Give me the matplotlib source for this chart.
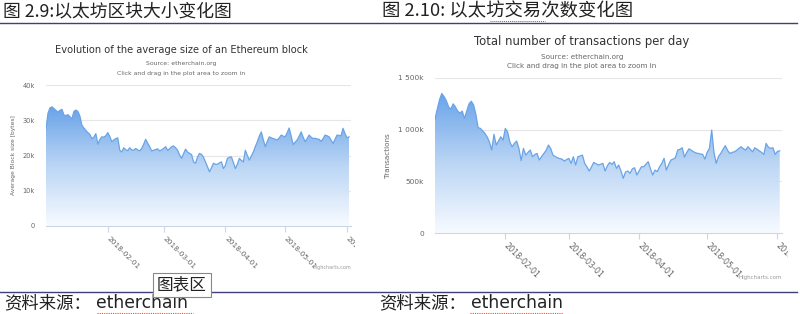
import numpy as np
import pandas as pd
import matplotlib
matplotlib.use('Agg')
import matplotlib.pyplot as plt
import matplotlib.dates as mdates
from matplotlib.colors import LinearSegmentedColormap
from matplotlib.transforms import Bbox, TransformedBbox

plt.rcParams['font.family'] = ['Noto Sans CJK SC', 'DejaVu Sans']

START = '2018-01-01'

# average block size per day (bytes, in thousands)
block_size_k = [
    27.5, 32.0, 33.5, 33.8, 33.3, 32.8, 32.3, 32.8, 33.1, 31.5,
    31.3, 31.6, 31.0, 30.4, 32.5, 32.9, 32.5, 31.2, 28.6, 27.8,
    27.1, 26.5, 26.0, 24.8, 25.2, 26.2, 23.2, 24.5, 25.3, 25.2,
    25.6, 26.5, 25.4, 23.9, 24.4, 24.8, 25.0, 21.5, 21.0, 22.2,
    21.6, 21.4, 22.2, 21.6, 21.5, 22.0, 21.6, 21.3, 22.0, 23.2,
    24.6, 23.5, 22.5, 21.3, 21.5, 21.7, 21.9, 21.3, 21.6, 22.0,
    22.5, 21.5, 21.9, 22.5, 22.7, 22.2, 21.5, 20.2, 19.2, 20.5,
    21.8, 21.0, 20.6, 20.3, 18.2, 17.8, 19.5, 20.6, 20.3, 19.5,
    18.2, 16.8, 15.4, 16.5, 17.8, 17.5, 17.5, 17.9, 18.2, 16.3,
    17.2, 19.2, 19.5, 19.6, 18.0, 16.3, 17.5, 19.2, 18.6, 18.2,
    21.5, 20.0, 18.7, 19.8, 21.0, 22.5, 23.9, 25.5, 26.7, 24.5,
    22.5, 24.0, 25.3, 25.0, 24.8, 24.6, 24.4, 25.0, 25.8, 25.5,
    25.3, 26.5, 27.8, 25.5, 23.1, 23.8, 24.4, 25.5, 26.7, 25.2,
    23.9, 24.8, 25.8, 25.2, 24.8, 24.9, 24.7, 24.6, 24.0, 24.8,
    25.8, 25.6, 25.3, 24.4, 23.4, 24.6, 25.8, 25.7, 25.6, 27.7,
    26.2, 25.0, 25.3,
]

# transactions per day (thousands)
tx_k = [
    1100, 1200, 1290, 1350, 1320, 1280, 1220, 1200, 1250, 1220,
    1180, 1160, 1180, 1110, 1180, 1250, 1275, 1240, 1150, 1020,
    1012, 990, 964, 930, 880, 803, 955, 851, 890, 931,
    899, 1012, 980, 880, 835, 867, 890, 819, 700, 819,
    754, 780, 803, 738, 760, 770, 706, 740, 770, 800,
    851, 819, 754, 740, 728, 720, 715, 696, 710, 722,
    674, 738, 658, 738, 745, 754, 674, 640, 600, 640,
    683, 670, 658, 665, 674, 600, 650, 683, 664, 690,
    625, 658, 600, 529, 590, 600, 577, 620, 631, 561,
    600, 641, 641, 665, 690, 620, 561, 609, 593, 640,
    674, 722, 609, 660, 706, 715, 728, 803, 810, 825,
    735, 780, 815, 800, 786, 775, 770, 765, 761, 715,
    780, 819, 996, 780, 674, 740, 770, 810, 845, 800,
    770, 780, 786, 800, 819, 835, 815, 803, 835, 810,
    786, 825, 810, 795, 780, 761, 867, 830, 819, 825,
    761, 790, 795,
]

month_ticks = ['2018-02-01', '2018-03-01', '2018-04-01', '2018-05-01', '2018-06-01']
left_yticks = [0, 10000, 20000, 30000, 40000]
left_ylabels = ['0', '10k', '20k', '30k', '40k']
right_yticks = [0, 500000, 1000000, 1500000]
right_ylabels = ['0', '500k', '1 000k', '1 500k']

LINE = '#6aa4e6'
GRID = '#e6e6e6'
AXIS = '#ccd6eb'
HEAD = '#3f3f7a'
W, H = 800, 314

fig = plt.figure(figsize=(8, 3.14), dpi=100)


def fx(px):
    return px / W


def fy(py):
    return 1 - py / H


grad_cmap = LinearSegmentedColormap.from_list(
    'hc', [(0.97, 0.985, 1.0), (0.72, 0.83, 0.96), (0.38, 0.62, 0.91)])


def area_chart(rect, values, yticks, ylabels, ylabel, ylabel_size, tick_size,
               clip_px):
    ax = fig.add_axes(rect)
    dates = pd.date_range(START, periods=len(values), freq='D')
    x = mdates.date2num(dates)
    y = np.array(values, dtype=float)

    for t in yticks[1:]:
        ax.axhline(t, color=GRID, lw=0.8, zorder=0)

    poly = ax.fill_between(x, y, 0, facecolor='none', edgecolor='none')
    im = ax.imshow(np.linspace(0, 1, 256).reshape(-1, 1), aspect='auto',
                   cmap=grad_cmap, origin='lower', alpha=0.95,
                   extent=[x[0], x[-1], 0, y.max()], zorder=1)
    im.set_clip_path(poly.get_paths()[0], transform=ax.transData)
    ax.plot(x, y, color=LINE, lw=0.9, zorder=2)

    ax.set_xlim(mdates.date2num(pd.Timestamp('2018-01-01')),
                mdates.date2num(pd.Timestamp('2018-06-03')))
    ax.set_ylim(0, yticks[-1])

    ax.set_yticks(yticks)
    ax.set_yticklabels(ylabels, fontsize=tick_size, color='#666666',
                       family='DejaVu Sans')
    ax.tick_params(axis='y', length=0, pad=8)

    xt = mdates.date2num(pd.to_datetime(month_ticks))
    ax.set_xticks(xt)
    ax.set_xticklabels(month_ticks, fontsize=tick_size + 0.5, color='#666666',
                       family='DejaVu Sans', rotation=-45, ha='left',
                       va='center', rotation_mode='anchor')
    ax.tick_params(axis='x', length=4, color=AXIS, width=0.8, pad=4)
    # the last month label is cut at the chart container edge, as in the source
    clip = TransformedBbox(Bbox([[0, 0], [clip_px / W, 1]]), fig.transFigure)
    for lab in ax.get_xticklabels():
        lab.set_clip_box(clip)
        lab.set_clip_on(True)

    for s in ['top', 'right', 'left']:
        ax.spines[s].set_visible(False)
    ax.spines['bottom'].set_color(AXIS)
    ax.spines['bottom'].set_linewidth(0.8)
    ax.set_ylabel(ylabel, fontsize=ylabel_size, color='#666666',
                  family='DejaVu Sans', labelpad=5)
    ax.set_facecolor('none')
    return ax


ax1 = area_chart([fx(46), fy(226), fx(305), 141 / H],
                 [v * 1000 for v in block_size_k], left_yticks, left_ylabels,
                 'Average Block size [bytes]', 4.3, 4.8, 355)
ax2 = area_chart([fx(435), fy(233), fx(347), 155 / H],
                 [v * 1000 for v in tx_k], right_yticks, right_ylabels,
                 'Transactions', 5.2, 5.3, 788)

# chart titles and subtitles
fig.text(fx(181), fy(50), 'Evolution of the average size of an Ethereum block',
         ha='center', va='center', fontsize=7.1, color='#333333', family='DejaVu Sans')
fig.text(fx(181), fy(64), 'Source: etherchain.org', ha='center', va='center',
         fontsize=4.4, color='#666666', family='DejaVu Sans')
fig.text(fx(181), fy(73), 'Click and drag in the plot area to zoom in',
         ha='center', va='center', fontsize=4.4, color='#666666', family='DejaVu Sans')
fig.text(fx(582), fy(42), 'Total number of transactions per day',
         ha='center', va='center', fontsize=8.4, color='#333333', family='DejaVu Sans')
fig.text(fx(582), fy(57), 'Source: etherchain.org', ha='center', va='center',
         fontsize=5.2, color='#666666', family='DejaVu Sans')
fig.text(fx(582), fy(66), 'Click and drag in the plot area to zoom in',
         ha='center', va='center', fontsize=5.2, color='#666666', family='DejaVu Sans')
fig.text(fx(351), fy(268), 'Highcharts.com', ha='right', va='center',
         fontsize=3.5, color='#999999', family='DejaVu Sans')
fig.text(fx(782), fy(278), 'Highcharts.com', ha='right', va='center',
         fontsize=4, color='#999999', family='DejaVu Sans')

# report headers / footers
fig.text(fx(3), fy(11), '图 2.9:以太坊区块大小变化图', ha='left', va='center',
         fontsize=12.8, color='#222222')
fig.text(fx(382), fy(11), '图 2.10: 以太坊交易次数变化图', ha='left', va='center',
         fontsize=13.2, color='#222222')
fig.add_artist(plt.Line2D([0, fx(797)], [fy(22.5), fy(22.5)], color=HEAD, lw=1.0))
fig.add_artist(plt.Line2D([fx(490), fx(545)], [fy(20.5), fy(20.5)], color='#5a5ad0',
                          lw=0.7, ls=(0, (1, 1))))
fig.add_artist(plt.Line2D([0, fx(797)], [fy(292), fy(292)], color=HEAD, lw=1.0))

for x0 in [4, 379]:
    fig.text(fx(x0), fy(303), '资料来源：', ha='left', va='center',
             fontsize=12.5, color='#222222')
    fig.text(fx(x0 + 92), fy(303), 'etherchain', ha='left', va='center',
             fontsize=12.3, color='#222222', family='DejaVu Sans')
fig.add_artist(plt.Line2D([fx(97), fx(193)], [fy(312.5), fy(312.5)], color='#e05050',
                          lw=0.8, ls=(0, (1, 1))))
fig.add_artist(plt.Line2D([fx(470), fx(563)], [fy(312.5), fy(312.5)], color='#e05050',
                          lw=0.8, ls=(0, (1, 1))))

fig.text(fx(182), fy(285), '图表区', ha='center', va='center', fontsize=12,
         color='#222222',
         bbox=dict(boxstyle='square,pad=0.22', facecolor='white', edgecolor='#888888',
                   lw=0.8))

fig.savefig('out.png', dpi=100)
